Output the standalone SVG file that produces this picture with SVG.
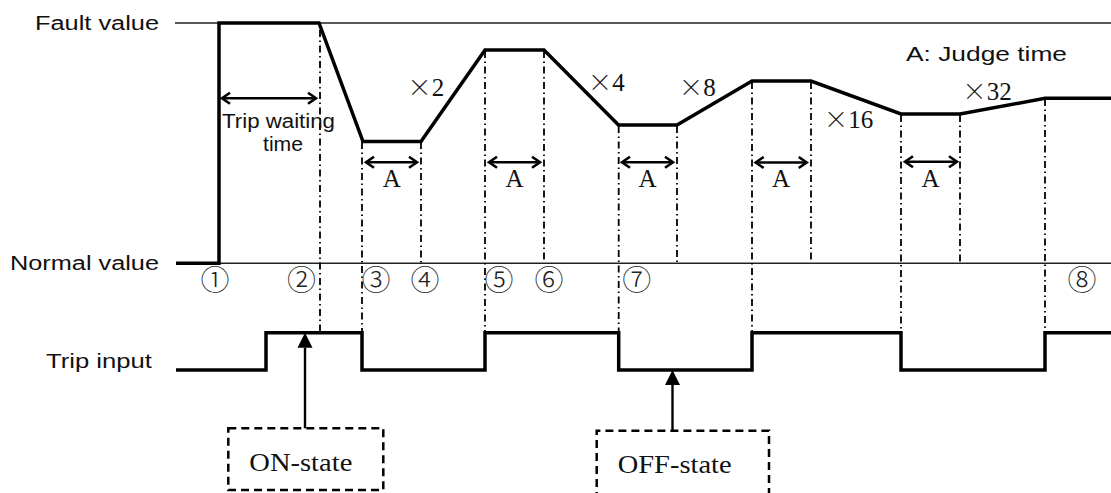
<svg xmlns="http://www.w3.org/2000/svg" width="1111" height="493" viewBox="0 0 1111 493">
<style>
.sans{font-family:"Liberation Sans",Arial,sans-serif;font-size:20px;fill:#111}
.mult{font-family:"Liberation Serif","Times New Roman",serif;font-size:25px;fill:#111}
.x{font-family:"Noto Sans CJK JP","DejaVu Sans",sans-serif;font-weight:300;font-size:24px}
.judge{font-family:"Liberation Serif","Times New Roman",serif;font-size:25px;fill:#111;text-anchor:middle}
.state{font-family:"Liberation Serif","Times New Roman",serif;font-size:26px;fill:#111}
.circ{font-family:"Noto Sans CJK JP","DejaVu Sans",sans-serif;font-size:29px;fill:#222;text-anchor:middle;font-weight:300}
.ref{stroke:#222;stroke-width:1.5;fill:none}
.wave{stroke:#000;stroke-width:3.5;fill:none;stroke-linejoin:miter}
.guide{stroke:#000;stroke-width:1.8;fill:none;stroke-dasharray:7 3.5 1.5 3.5}
.dbl{stroke:#000;stroke-width:2.6;fill:none;marker-start:url(#open);marker-end:url(#open)}
.box{stroke:#000;stroke-width:2.5;fill:none;stroke-dasharray:8 5}
.ptr{stroke:#000;stroke-width:2.4;fill:none;marker-end:url(#solid)}
</style>
<defs>
<marker id="open" markerUnits="userSpaceOnUse" markerWidth="14" markerHeight="14" viewBox="0 0 14 14" refX="11" refY="7" orient="auto-start-reverse">
<path d="M3,1.5 L11,7 L3,12.5" fill="none" stroke="#000" stroke-width="2.6"/>
</marker>
<marker id="solid" markerUnits="userSpaceOnUse" markerWidth="16" markerHeight="16" viewBox="0 0 16 16" refX="0" refY="8" orient="auto">
<path d="M0,0.5 L15,8 L0,15.5 z" fill="#000"/>
</marker>
</defs>
<rect width="1111" height="493" fill="#fff"/>

<g id="axes">
<line class="ref" x1="175" y1="23" x2="1111" y2="23"/>
<line class="ref" x1="176" y1="263.3" x2="1111" y2="263.3"/>
<text class="sans" x="35" y="29.5" textLength="124" lengthAdjust="spacingAndGlyphs">Fault value</text>
<text class="sans" x="10" y="270" textLength="149" lengthAdjust="spacingAndGlyphs">Normal value</text>
<text class="sans" x="46" y="368" textLength="106" lengthAdjust="spacingAndGlyphs">Trip input</text>
<text class="sans" x="906" y="61" textLength="161" lengthAdjust="spacingAndGlyphs">A: Judge time</text>
</g>

<g id="guides">
<line class="guide" x1="320" y1="30" x2="320" y2="332"/>
<line class="guide" x1="362" y1="142" x2="362" y2="332"/>
<line class="guide" x1="421" y1="142" x2="421" y2="263"/>
<line class="guide" x1="485" y1="51" x2="485" y2="332"/>
<line class="guide" x1="544" y1="51" x2="544" y2="263"/>
<line class="guide" x1="618.7" y1="126" x2="618.7" y2="332"/>
<line class="guide" x1="677" y1="126" x2="677" y2="263"/>
<line class="guide" x1="752" y1="82" x2="752" y2="332"/>
<line class="guide" x1="811" y1="82" x2="811" y2="263"/>
<line class="guide" x1="901" y1="115" x2="901" y2="332"/>
<line class="guide" x1="960" y1="115" x2="960" y2="263"/>
<line class="guide" x1="1045" y1="99" x2="1045" y2="332"/>
</g>

<g id="fault-wave">
<path class="wave" d="M176,263.3 H219 V23 H319 L363,141.5 H421 L485,50 H544 L618.5,125 H677 L752,81 H811 L901,114 H960 L1045,98.3 H1111"/>
</g>

<g id="trip-wave">
<path class="wave" d="M176,370 H266 V332.7 H362 V370 H485 V332.7 H618.7 V370 H752 V332.7 H901 V370 H1045 V332.7 H1111"/>
</g>

<g id="markers-text">
<text class="circ" x="215" y="291">①</text>
<text class="circ" x="301.5" y="291">②</text>
<text class="circ" x="376" y="291">③</text>
<text class="circ" x="425" y="291">④</text>
<text class="circ" x="499" y="291">⑤</text>
<text class="circ" x="549" y="291">⑥</text>
<text class="circ" x="636.7" y="291">⑦</text>
<text class="circ" x="1082" y="291">⑧</text>
<text class="mult" y="95.7"><tspan class="x" x="407.5">×</tspan><tspan x="431.7">2</tspan></text>
<text class="mult" y="90.7"><tspan class="x" x="588">×</tspan><tspan x="612.2">4</tspan></text>
<text class="mult" y="96"><tspan class="x" x="679">×</tspan><tspan x="703.2">8</tspan></text>
<text class="mult" y="127.7"><tspan class="x" x="824">×</tspan><tspan x="848.2">16</tspan></text>
<text class="mult" y="100"><tspan class="x" x="962.5">×</tspan><tspan x="986.7">32</tspan></text>
</g>

<g id="trip-waiting">
<line class="dbl" x1="222" y1="98.3" x2="316" y2="98.3"/>
<text class="sans" x="222" y="127.7" textLength="113" lengthAdjust="spacingAndGlyphs">Trip waiting</text>
<text class="sans" x="263" y="150.5" textLength="40" lengthAdjust="spacingAndGlyphs">time</text>
</g>

<g id="judge-times">
<line class="dbl" x1="366" y1="162.3" x2="417" y2="162.3"/>
<line class="dbl" x1="489" y1="162.3" x2="540" y2="162.3"/>
<line class="dbl" x1="622" y1="162.3" x2="673" y2="162.3"/>
<line class="dbl" x1="755.7" y1="162.5" x2="806.7" y2="162.5"/>
<line class="dbl" x1="905" y1="161.7" x2="957" y2="161.7"/>
<text class="judge" x="391.7" y="187">A</text>
<text class="judge" x="514.5" y="187">A</text>
<text class="judge" x="647.5" y="187">A</text>
<text class="judge" x="781" y="187">A</text>
<text class="judge" x="930.5" y="187">A</text>
</g>

<g id="on-state">
<rect class="box" x="228.3" y="428.3" width="155" height="61.7"/>
<text class="state" x="249.3" y="470.7" textLength="103" lengthAdjust="spacingAndGlyphs">ON-state</text>
</g>

<g id="off-state">
<path class="box" d="M596.7,500 V430.7 H769 V500"/>
<text class="state" x="617.7" y="473.3" textLength="114" lengthAdjust="spacingAndGlyphs">OFF-state</text>
</g>

<g id="connectors">
<line class="ptr" x1="305" y1="428.3" x2="305" y2="347.7"/>
<line class="ptr" x1="672.5" y1="430.7" x2="672.5" y2="385"/>
</g>
</svg>
